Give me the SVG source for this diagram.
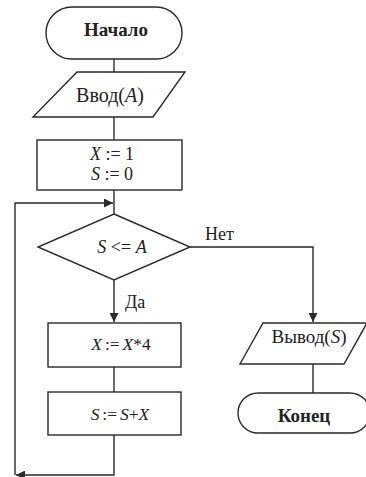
<svg xmlns="http://www.w3.org/2000/svg" width="366" height="477" viewBox="0 0 366 477">
<style>
.s{fill:#fff;stroke:#2a2a2a;stroke-width:1.4}
.c{fill:none;stroke:#2a2a2a;stroke-width:1.4}
text{font-family:"Liberation Serif","Times New Roman",serif;font-size:18px;fill:#222}
.m{text-anchor:middle}
.t{font-size:19px;font-weight:bold}
.i{font-style:italic}
.n{word-spacing:-1.5px;font-size:17.5px}
</style>
<defs>
<marker id="ah" viewBox="0 0 10 10" refX="10" refY="5" markerWidth="9" markerHeight="9" markerUnits="userSpaceOnUse" orient="auto">
<path d="M0,0 L10,5 L0,10 z" fill="#2a2a2a"/>
</marker>
</defs>
<rect width="366" height="477" fill="#fff"/>
<g id="connectors">
<path class="c" d="M114,59 V72"/>
<path class="c" d="M114,117 V140"/>
<path class="c" d="M114,190 V214"/>
<path class="c" d="M15,475 V203 H113" marker-end="url(#ah)"/>
<path class="c" d="M114,280 V322" marker-end="url(#ah)"/>
<path class="c" d="M190,247 H313 V322" marker-end="url(#ah)"/>
<path class="c" d="M114,367 V392"/>
<path class="c" d="M114,435 V475 H16" marker-end="url(#ah)"/>
<path class="c" d="M313,364 V393"/>
</g>
<g id="start">
<rect class="s" x="46" y="7" width="136" height="52" rx="26"/>
<text class="m t" x="116" y="36">Начало</text>
</g>
<g id="input">
<polygon class="s" points="77,72 185,72 153,117 33,117"/>
<text class="m" x="110" y="102" style="font-size:20px">Ввод(<tspan class="i">A</tspan>)</text>
</g>
<g id="init">
<rect class="s" x="37" y="140" width="145" height="50"/>
<text class="m" x="112" y="160"><tspan class="i">X</tspan> := 1</text>
<text class="m" x="112" y="180"><tspan class="i">S</tspan> := 0</text>
</g>
<g id="cond">
<polygon class="s" points="114,214 190,247 114,280 38,247"/>
<text class="m" x="122" y="253"><tspan class="i">S</tspan> &lt;= <tspan class="i">A</tspan></text>
<text x="205" y="240">Нет</text>
<text x="125" y="308">Да</text>
</g>
<g id="mulx">
<rect class="s" x="48" y="323" width="133" height="44"/>
<text class="m n" x="121" y="350"><tspan class="i">X</tspan> := <tspan class="i">X</tspan>*4</text>
</g>
<g id="adds">
<rect class="s" x="48" y="392" width="133" height="43"/>
<text class="m n" x="120" y="420"><tspan class="i">S</tspan> := <tspan class="i">S</tspan>+<tspan class="i">X</tspan></text>
</g>
<g id="output">
<polygon class="s" points="263,323 367,323 344,364 240,364"/>
<text class="m" x="309" y="343" style="font-size:19px">Вывод(<tspan class="i">S</tspan>)</text>
</g>
<g id="end">
<rect class="s" x="238" y="393" width="132" height="40" rx="20"/>
<text class="m t" x="304" y="422">Конец</text>
</g>
</svg>
